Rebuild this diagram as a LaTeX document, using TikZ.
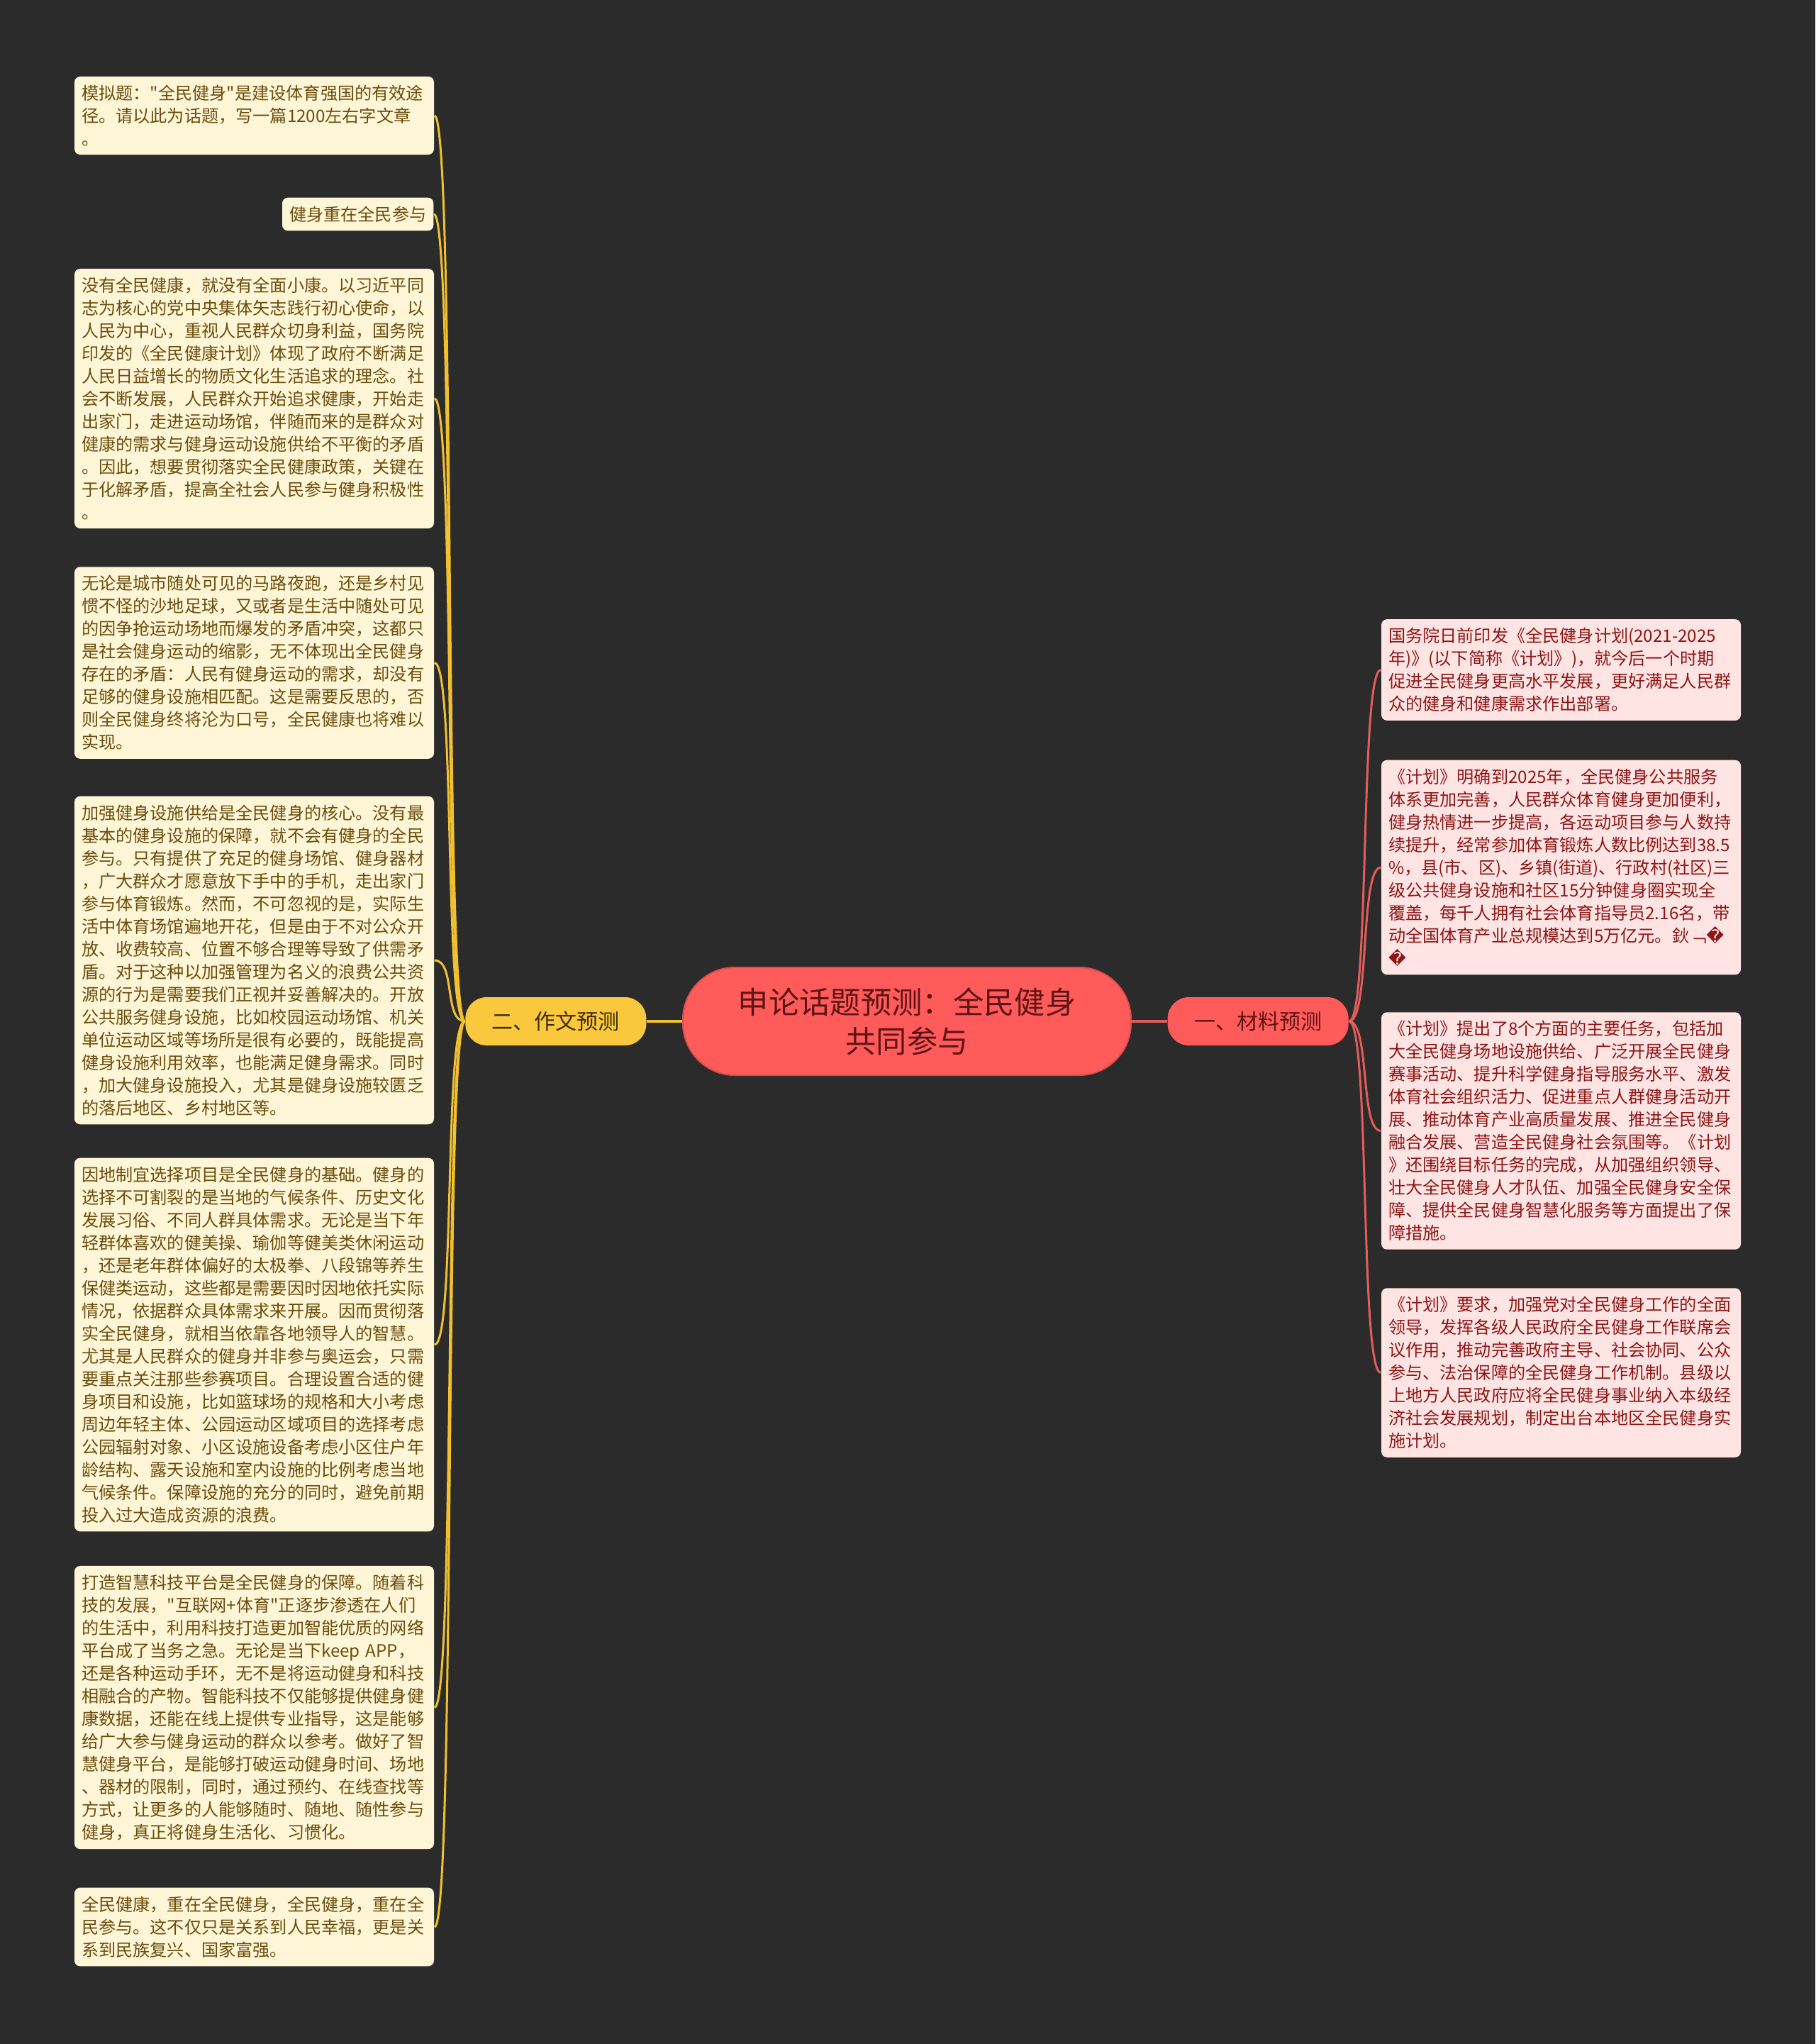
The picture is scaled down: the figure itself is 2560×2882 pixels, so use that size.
\documentclass[tikz,border=0pt]{standalone}
\usepackage{fontspec}
\setmainfont{Noto Sans CJK SC}
\newfontfamily\cjkfont{Noto Sans CJK SC}
\newfontfamily\symfont{DejaVu Sans}
\usetikzlibrary{positioning}
\definecolor{bgdark}{HTML}{2B2B2B}
\definecolor{creamfill}{HTML}{FFF6D8}
\definecolor{creamtext}{HTML}{6B4D0C}
\definecolor{pinkfill}{HTML}{FFE4E4}
\definecolor{pinktext}{HTML}{8E1616}
\definecolor{coral}{HTML}{FF5B5B}
\definecolor{coraltext}{HTML}{5E1414}
\definecolor{gold}{HTML}{FAC83C}
\definecolor{goldtext}{HTML}{3D2C00}
\definecolor{goldline}{HTML}{F0C030}
\definecolor{redline}{HTML}{E45C5C}

\begin{document}
\begin{tikzpicture}[x=0.3pt,y=-0.3pt,
    node distance=15pt,
    topic/.style={rectangle,rounded corners=22pt,fill=coral,draw=coral!85!black,line width=0.6pt,minimum width=189.6pt,minimum height=45.6pt,align=center,text=coraltext,font=\cjkfont\fontsize{13pt}{16.5pt}\selectfont},
    branch/.style={rectangle,rounded corners=9pt,minimum width=76.5pt,minimum height=20.4pt,inner sep=0pt,font=\cjkfont\fontsize{9pt}{11pt}\selectfont},
    notebox/.style={rectangle,rounded corners=2.4pt,align=left,inner xsep=3pt,inner ysep=3.6pt,font=\cjkfont\fontsize{7.25pt}{9.6pt}\selectfont},
    essaybox/.style={notebox,fill=creamfill,text=creamtext,text width=146.1pt},
    materialbox/.style={notebox,fill=pinkfill,text=pinktext,text width=146.1pt},
    goldlink/.style={draw=goldline,line width=0.9pt},
    redlink/.style={draw=redline,line width=0.9pt}
]
\fill[bgdark] (0,0) rectangle (2560,2882);
\useasboundingbox (0,0) rectangle (2560,2882);

% centre and the two branches
\node[topic] (topic) at (1279,1440) {申论话题预测：全民健身\\共同参与};
\node[branch,fill=gold,text=goldtext,left=of topic] (essay) {二、作文预测};
\node[branch,fill=coral,text=coraltext,right=of topic] (material) {一、材料预测};

% left side: essay notes
\node[essaybox] (e1) at (358.5,163) {模拟题："全民健身"是建设体育强国的有效途\\径。请以此为话题，写一篇1200左右字文章\\。};
\node[notebox,fill=creamfill,text=creamtext,anchor=east] (e2) at (612,302) {健身重在全民参与};
\node[essaybox] (e3) at (358.5,562) {没有全民健康，就没有全面小康。以习近平同\\志为核心的党中央集体矢志践行初心使命，以\\人民为中心，重视人民群众切身利益，国务院\\印发的《全民健康计划》体现了政府不断满足\\人民日益增长的物质文化生活追求的理念。社\\会不断发展，人民群众开始追求健康，开始走\\出家门，走进运动场馆，伴随而来的是群众对\\健康的需求与健身运动设施供给不平衡的矛盾\\。因此，想要贯彻落实全民健康政策，关键在\\于化解矛盾，提高全社会人民参与健身积极性\\。};
\node[essaybox] (e4) at (358.5,934.5) {无论是城市随处可见的马路夜跑，还是乡村见\\惯不怪的沙地足球，又或者是生活中随处可见\\的因争抢运动场地而爆发的矛盾冲突，这都只\\是社会健身运动的缩影，无不体现出全民健身\\存在的矛盾：人民有健身运动的需求，却没有\\足够的健身设施相匹配。这是需要反思的，否\\则全民健身终将沦为口号，全民健康也将难以\\实现。};
\node[essaybox] (e5) at (358.5,1354) {加强健身设施供给是全民健身的核心。没有最\\基本的健身设施的保障，就不会有健身的全民\\参与。只有提供了充足的健身场馆、健身器材\\，广大群众才愿意放下手中的手机，走出家门\\参与体育锻炼。然而，不可忽视的是，实际生\\活中体育场馆遍地开花，但是由于不对公众开\\放、收费较高、位置不够合理等导致了供需矛\\盾。对于这种以加强管理为名义的浪费公共资\\源的行为是需要我们正视并妥善解决的。开放\\公共服务健身设施，比如校园运动场馆、机关\\单位运动区域等场所是很有必要的，既能提高\\健身设施利用效率，也能满足健身需求。同时\\，加大健身设施投入，尤其是健身设施较匮乏\\的落后地区、乡村地区等。};
\node[essaybox] (e6) at (358.5,1896) {因地制宜选择项目是全民健身的基础。健身的\\选择不可割裂的是当地的气候条件、历史文化\\发展习俗、不同人群具体需求。无论是当下年\\轻群体喜欢的健美操、瑜伽等健美类休闲运动\\，还是老年群体偏好的太极拳、八段锦等养生\\保健类运动，这些都是需要因时因地依托实际\\情况，依据群众具体需求来开展。因而贯彻落\\实全民健身，就相当依靠各地领导人的智慧。\\尤其是人民群众的健身并非参与奥运会，只需\\要重点关注那些参赛项目。合理设置合适的健\\身项目和设施，比如篮球场的规格和大小考虑\\周边年轻主体、公园运动区域项目的选择考虑\\公园辐射对象、小区设施设备考虑小区住户年\\龄结构、露天设施和室内设施的比例考虑当地\\气候条件。保障设施的充分的同时，避免前期\\投入过大造成资源的浪费。};
\node[essaybox] (e7) at (358.5,2407.5) {打造智慧科技平台是全民健身的保障。随着科\\技的发展，"互联网+体育"正逐步渗透在人们\\的生活中，利用科技打造更加智能优质的网络\\平台成了当务之急。无论是当下keep APP，\\还是各种运动手环，无不是将运动健身和科技\\相融合的产物。智能科技不仅能够提供健身健\\康数据，还能在线上提供专业指导，这是能够\\给广大参与健身运动的群众以参考。做好了智\\慧健身平台，是能够打破运动健身时间、场地\\、器材的限制，同时，通过预约、在线查找等\\方式，让更多的人能够随时、随地、随性参与\\健身，真正将健身生活化、习惯化。};
\node[essaybox] (e8) at (358.5,2717) {全民健康，重在全民健身，全民健身，重在全\\民参与。这不仅只是关系到人民幸福，更是关\\系到民族复兴、国家富强。};

% right side: material notes
\node[materialbox] (m1) at (2201.5,944.5) {国务院日前印发《全民健身计划(2021-2025\\年)》(以下简称《计划》)，就今后一个时期\\促进全民健身更高水平发展，更好满足人民群\\众的健身和健康需求作出部署。};
\node[materialbox] (m2) at (2201.5,1223) {《计划》明确到2025年，全民健身公共服务\\体系更加完善，人民群众体育健身更加便利，\\健身热情进一步提高，各运动项目参与人数持\\续提升，经常参加体育锻炼人数比例达到38.5\\\%，县(市、区)、乡镇(街道)、行政村(社区)三\\级公共健身设施和社区15分钟健身圈实现全\\覆盖，每千人拥有社会体育指导员2.16名，带\\动全国体育产业总规模达到5万亿元。鈥﹁{\symfont �}\\{\symfont �}};
\node[materialbox] (m3) at (2201.5,1594.5) {《计划》提出了8个方面的主要任务，包括加\\大全民健身场地设施供给、广泛开展全民健身\\赛事活动、提升科学健身指导服务水平、激发\\体育社会组织活力、促进重点人群健身活动开\\展、推动体育产业高质量发展、推进全民健身\\融合发展、营造全民健身社会氛围等。《计划\\》还围绕目标任务的完成，从加强组织领导、\\壮大全民健身人才队伍、加强全民健身安全保\\障、提供全民健身智慧化服务等方面提出了保\\障措施。};
\node[materialbox] (m4) at (2201.5,1935.5) {《计划》要求，加强党对全民健身工作的全面\\领导，发挥各级人民政府全民健身工作联席会\\议作用，推动完善政府主导、社会协同、公众\\参与、法治保障的全民健身工作机制。县级以\\上地方人民政府应将全民健身事业纳入本级经\\济社会发展规划，制定出台本地区全民健身实\\施计划。};

% connectors
\draw[goldlink,line width=1.2pt] (topic.west) -- (essay.east);
\draw[redlink,line width=1.2pt] (topic.east) -- (material.west);
\foreach \n in {e1,e2,e3,e4,e5,e6,e7,e8}
  \draw[goldlink] (essay.west) .. controls +(-30,0) and +(30,0) .. (\n.east);
\foreach \n in {m1,m2,m3,m4}
  \draw[redlink] (material.east) .. controls +(30,0) and +(-30,0) .. (\n.west);

\end{tikzpicture}
\end{document}
